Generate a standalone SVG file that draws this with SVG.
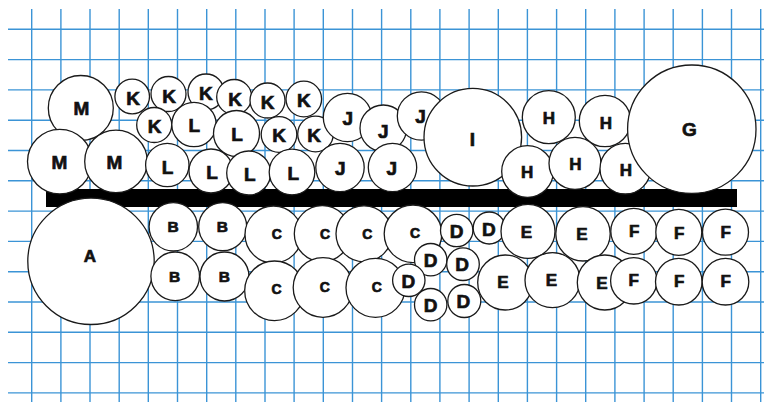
<svg xmlns="http://www.w3.org/2000/svg" width="764" height="402" viewBox="0 0 764 402">
<style>
.g line{stroke:#3b94d6;stroke-width:1.4}
circle{fill:#fff;stroke:#1a1a1a;stroke-width:1.3}
text{font-family:"Liberation Sans",Arial,sans-serif;font-weight:700;fill:#111;stroke:#111;stroke-width:0.7;text-anchor:middle}
.xl{font-size:19px}
.l{font-size:17px}
.m{font-size:15.5px}
.s{font-size:14px}
</style>
<rect width="764" height="402" fill="#fff"/>
<g class="g" id="grid">
<line x1="31.7" y1="9" x2="31.7" y2="402"/><line x1="60.9" y1="9" x2="60.9" y2="402"/><line x1="90" y1="9" x2="90" y2="402"/><line x1="119.2" y1="9" x2="119.2" y2="402"/><line x1="148.3" y1="9" x2="148.3" y2="402"/><line x1="177.5" y1="9" x2="177.5" y2="402"/><line x1="206.7" y1="9" x2="206.7" y2="402"/><line x1="235.8" y1="9" x2="235.8" y2="402"/><line x1="265" y1="9" x2="265" y2="402"/><line x1="294.1" y1="9" x2="294.1" y2="402"/><line x1="323.3" y1="9" x2="323.3" y2="402"/><line x1="352.5" y1="9" x2="352.5" y2="402"/><line x1="381.6" y1="9" x2="381.6" y2="402"/><line x1="410.8" y1="9" x2="410.8" y2="402"/><line x1="439.9" y1="9" x2="439.9" y2="402"/><line x1="469.1" y1="9" x2="469.1" y2="402"/><line x1="498.3" y1="9" x2="498.3" y2="402"/><line x1="527.4" y1="9" x2="527.4" y2="402"/><line x1="556.6" y1="9" x2="556.6" y2="402"/><line x1="585.7" y1="9" x2="585.7" y2="402"/><line x1="614.9" y1="9" x2="614.9" y2="402"/><line x1="644.1" y1="9" x2="644.1" y2="402"/><line x1="673.2" y1="9" x2="673.2" y2="402"/><line x1="702.4" y1="9" x2="702.4" y2="402"/><line x1="731.5" y1="9" x2="731.5" y2="402"/><line x1="760.7" y1="9" x2="760.7" y2="402"/>
<line x1="8" y1="29.3" x2="764" y2="29.3"/><line x1="8" y1="59.6" x2="764" y2="59.6"/><line x1="8" y1="89.9" x2="764" y2="89.9"/><line x1="8" y1="120.2" x2="764" y2="120.2"/><line x1="8" y1="150.5" x2="764" y2="150.5"/><line x1="8" y1="180.8" x2="764" y2="180.8"/><line x1="8" y1="211.1" x2="764" y2="211.1"/><line x1="8" y1="241.4" x2="764" y2="241.4"/><line x1="8" y1="271.7" x2="764" y2="271.7"/><line x1="8" y1="302" x2="764" y2="302"/><line x1="8" y1="332.3" x2="764" y2="332.3"/><line x1="8" y1="362.6" x2="764" y2="362.6"/><line x1="8" y1="392.9" x2="764" y2="392.9"/>
</g>
<rect id="bar" x="46" y="189" width="691" height="18" fill="#000"/>
<g id="connectors"/>
<g id="M1"><circle cx="80.8" cy="108" r="32.5"/><text class="xl" x="81.3" y="115.1">M</text></g>
<g id="M2"><circle cx="59.8" cy="161.6" r="32.3"/><text class="xl" x="59.5" y="168.8">M</text></g>
<g id="M3"><circle cx="116" cy="161.4" r="31.3"/><text class="xl" x="114.5" y="168.8">M</text></g>
<g id="K1"><circle cx="132.2" cy="96.5" r="17.3"/><text class="xl" x="133" y="104.6">K</text></g>
<g id="K2"><circle cx="168.5" cy="94" r="17.5"/><text class="xl" x="169" y="102.6">K</text></g>
<g id="K3"><circle cx="206" cy="92" r="18"/><text class="xl" x="205.8" y="100.1">K</text></g>
<g id="K4"><circle cx="234.2" cy="97" r="17.5"/><text class="xl" x="235" y="105.6">K</text></g>
<g id="K6"><circle cx="267.5" cy="100.5" r="17.5"/><text class="xl" x="267.7" y="109.3">K</text></g>
<g id="K7"><circle cx="303.8" cy="99" r="17.8"/><text class="xl" x="303.8" y="107">K</text></g>
<g id="K5"><circle cx="154.2" cy="125" r="17.5"/><text class="xl" x="154.7" y="133">K</text></g>
<g id="L1"><circle cx="194" cy="124.5" r="22.2"/><text class="xl" x="194.2" y="131.8">L</text></g>
<g id="L2"><circle cx="236.5" cy="133.5" r="23"/><text class="xl" x="237" y="140.6">L</text></g>
<g id="K8"><circle cx="279" cy="134.5" r="17.8"/><text class="xl" x="279.2" y="142">K</text></g>
<g id="K9"><circle cx="315.5" cy="134" r="17.8"/><text class="xl" x="314.2" y="142">K</text></g>
<g id="L3"><circle cx="167.3" cy="165" r="21.7"/><text class="xl" x="167.5" y="173.8">L</text></g>
<g id="L4"><circle cx="211" cy="171" r="22"/><text class="xl" x="212" y="178.8">L</text></g>
<g id="L5"><circle cx="248.7" cy="173" r="22"/><text class="xl" x="249.7" y="180.5">L</text></g>
<g id="L6"><circle cx="292" cy="172" r="22.8"/><text class="xl" x="293.3" y="179.6">L</text></g>
<g id="J1"><circle cx="347.5" cy="117.5" r="24.2"/><text class="xl" x="347.8" y="124.5">J</text></g>
<g id="J2"><circle cx="383.3" cy="128.3" r="23.3"/><text class="xl" x="383.3" y="137.8">J</text></g>
<g id="J3"><circle cx="421.5" cy="116" r="24.2"/><text class="xl" x="420.5" y="122.6">J</text></g>
<g id="J4"><circle cx="340" cy="167.5" r="24.2"/><text class="xl" x="340.2" y="174.5">J</text></g>
<g id="J5"><circle cx="392.5" cy="167.5" r="24.2"/><text class="xl" x="391.8" y="174.5">J</text></g>
<g id="I"><circle cx="472.8" cy="137.2" r="48.8"/><text class="xl" x="472.5" y="145.5">I</text></g>
<g id="H1"><circle cx="548.8" cy="117.2" r="26.5"/><text class="l" x="548.8" y="123.9">H</text></g>
<g id="H2"><circle cx="605" cy="121" r="25.7"/><text class="l" x="605.8" y="128.6">H</text></g>
<g id="H3"><circle cx="527.5" cy="171.5" r="25.8"/><text class="l" x="527.2" y="178.1">H</text></g>
<g id="H4"><circle cx="575" cy="163.3" r="26"/><text class="l" x="575.3" y="169.8">H</text></g>
<g id="H5"><circle cx="625.3" cy="168.7" r="25.3"/><text class="l" x="625.8" y="175.8">H</text></g>
<g id="G"><circle cx="691.8" cy="129.2" r="64.2"/><text class="xl" x="689.5" y="136.3">G</text></g>
<g id="A"><circle cx="91" cy="261.3" r="63.2"/><text class="l" x="90" y="262.3">A</text></g>
<g id="B1"><circle cx="173.3" cy="226.8" r="24.2"/><text class="m" x="173" y="232.4">B</text></g>
<g id="B2"><circle cx="222.7" cy="226.7" r="24"/><text class="m" x="222.3" y="232.4">B</text></g>
<g id="B3"><circle cx="175.2" cy="276.3" r="24.3"/><text class="m" x="174.7" y="281.9">B</text></g>
<g id="B4"><circle cx="224.5" cy="276.5" r="24.5"/><text class="m" x="224.3" y="281.9">B</text></g>
<g id="C1"><circle cx="273.5" cy="234.5" r="28.5"/><text class="s" x="276.7" y="238.5">C</text></g>
<g id="C2"><circle cx="322.3" cy="233.7" r="28"/><text class="s" x="325" y="238.5">C</text></g>
<g id="C3"><circle cx="364" cy="233.8" r="28"/><text class="s" x="367.2" y="238.5">C</text></g>
<g id="C4"><circle cx="413" cy="233.8" r="28.8"/><text class="s" x="415" y="237.5">C</text></g>
<g id="C5"><circle cx="274.5" cy="290.8" r="29.8"/><text class="s" x="276.5" y="294.2">C</text></g>
<g id="C6"><circle cx="323" cy="287.5" r="29.8"/><text class="s" x="324.8" y="291.5">C</text></g>
<g id="C7"><circle cx="375.5" cy="287.8" r="29.5"/><text class="s" x="376.8" y="291.5">C</text></g>
<g id="D1"><circle cx="456.7" cy="230.5" r="16.2"/><text class="xl" x="456.7" y="237.9">D</text></g>
<g id="D2"><circle cx="489.2" cy="228" r="16"/><text class="xl" x="488.8" y="236.4">D</text></g>
<g id="D3"><circle cx="430.7" cy="259.7" r="16.2"/><text class="xl" x="430.5" y="267.2">D</text></g>
<g id="D4"><circle cx="463" cy="264.2" r="16.3"/><text class="xl" x="462.2" y="270.9">D</text></g>
<g id="D5"><circle cx="408.8" cy="280.3" r="16.2"/><text class="xl" x="408.3" y="288.4">D</text></g>
<g id="D6"><circle cx="430.7" cy="304.7" r="16.2"/><text class="xl" x="430.5" y="312.4">D</text></g>
<g id="D7"><circle cx="464.3" cy="301" r="16.5"/><text class="xl" x="463.3" y="308.4">D</text></g>
<g id="E1"><circle cx="528" cy="231.3" r="27"/><text class="l" x="526.5" y="237.8">E</text></g>
<g id="E2"><circle cx="583" cy="233.8" r="27.2"/><text class="l" x="581.8" y="239.8">E</text></g>
<g id="E3"><circle cx="505.2" cy="282.5" r="27.5"/><text class="l" x="503" y="288.1">E</text></g>
<g id="E4"><circle cx="552.5" cy="280.2" r="27.5"/><text class="l" x="551.5" y="285.9">E</text></g>
<g id="E5"><circle cx="604.8" cy="282.5" r="27.5"/><text class="l" x="601.8" y="289.1">E</text></g>
<g id="F1"><circle cx="633.8" cy="231.3" r="23"/><text class="l" x="634.2" y="236.8">F</text></g>
<g id="F2"><circle cx="678.8" cy="232.3" r="23"/><text class="l" x="679.2" y="238.8">F</text></g>
<g id="F3"><circle cx="725.5" cy="232.2" r="23"/><text class="l" x="725.8" y="238.1">F</text></g>
<g id="F4"><circle cx="633.8" cy="280.8" r="23.2"/><text class="l" x="633.7" y="285.9">F</text></g>
<g id="F5"><circle cx="678.8" cy="281.7" r="23.3"/><text class="l" x="679.2" y="287.3">F</text></g>
<g id="F6"><circle cx="725.5" cy="281.7" r="23.3"/><text class="l" x="725.8" y="287.3">F</text></g>
</svg>
